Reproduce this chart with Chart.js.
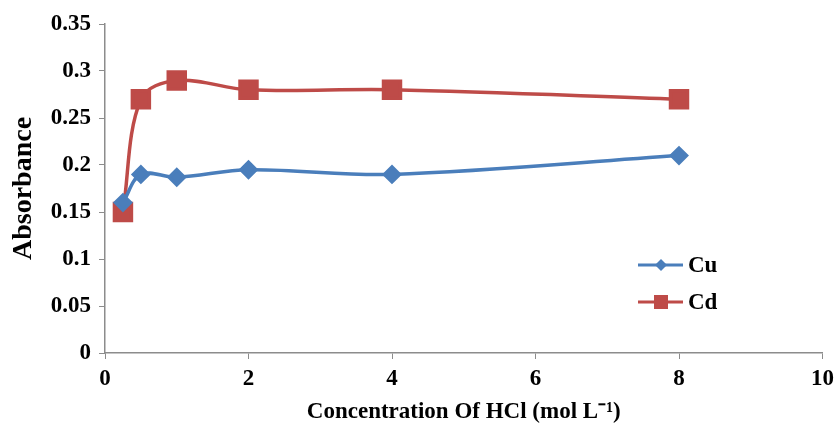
<!DOCTYPE html>
<html>
<head>
<meta charset="utf-8">
<script src="https://cdn.jsdelivr.net/npm/chart.js@4/dist/chart.umd.min.js"></script>
<style>
  html, body { margin: 0; padding: 0; background: #fff; }
  #wrap { width: 840px; height: 426px; }
</style>
</head>
<body>
<div id="wrap"><canvas id="myChart" width="840" height="426"></canvas></div>
<script>
// data
var concentrations = [0.25, 0.5, 1, 2, 4, 8];
var cuValues = [0.16, 0.19, 0.187, 0.195, 0.19, 0.21];
var cdValues = [0.15, 0.27, 0.29, 0.28, 0.28, 0.27];
var seriesNames = ['Cu', 'Cd'];
var yTickLabels = ['0', '0.05', '0.1', '0.15', '0.2', '0.25', '0.3', '0.35'];
var xTickLabels = ['0', '2', '4', '6', '8', '10'];

var cuColor = '#4A7EBB';
var cdColor = '#BE4B48';
var axisColor = '#8c8c8c';
var fontFamily = '"Liberation Serif", "Times New Roman", serif';

function toPoints(xs, ys) {
	return xs.map(function (x, i) { return { x: x, y: ys[i] }; });
}

// legend drawn inside the plot, like the original
var insideLegend = {
	id: 'insideLegend',
	afterDraw: function (chart) {
		var ctx = chart.ctx;
		var x0 = 638, y0 = 265, gap = 37;
		ctx.save();
		chart.data.datasets.forEach(function (ds, i) {
			var y = y0 + i * gap;
			ctx.strokeStyle = ds.borderColor;
			ctx.lineWidth = 3;
			ctx.beginPath();
			ctx.moveTo(x0, y);
			ctx.lineTo(x0 + 45, y);
			ctx.stroke();
			ctx.fillStyle = ds.pointBackgroundColor;
			var mx = x0 + 23;
			if (ds.pointStyle === 'rect') {
				ctx.fillRect(mx - 7, y - 7, 14, 14);
			} else {
				ctx.beginPath();
				ctx.moveTo(mx, y - 6);
				ctx.lineTo(mx + 6, y);
				ctx.lineTo(mx, y + 6);
				ctx.lineTo(mx - 6, y);
				ctx.closePath();
				ctx.fill();
			}
			ctx.fillStyle = '#000';
			ctx.font = 'bold 23px ' + fontFamily;
			ctx.textBaseline = 'middle';
			ctx.fillText(ds.label, x0 + 50, y + 1);
		});
		ctx.restore();
	}
};

var ctx = document.getElementById('myChart').getContext('2d');
var chart = new Chart(ctx, {
	type: 'scatter',
	data: {
		datasets: [{
			label: seriesNames[0],
			data: toPoints(concentrations, cuValues),
			showLine: true,
			borderColor: cuColor,
			backgroundColor: cuColor,
			pointBackgroundColor: cuColor,
			pointBorderColor: cuColor,
			borderWidth: 3.5,
			pointStyle: 'rectRot',
			pointRadius: 7.5,
			pointHoverRadius: 7.5,
			tension: 0.35
		}, {
			label: seriesNames[1],
			data: toPoints(concentrations, cdValues),
			showLine: true,
			borderColor: cdColor,
			backgroundColor: cdColor,
			pointBackgroundColor: cdColor,
			pointBorderColor: cdColor,
			borderWidth: 3.5,
			pointStyle: 'rect',
			pointRadius: 12,
			pointHoverRadius: 12,
			tension: 0.35
		}]
	},
	options: {
		responsive: false,
		animation: false,
		layout: { padding: { top: 24, right: 13, left: 0, bottom: 0 } },
		plugins: {
			legend: { display: false },
			tooltip: { enabled: false }
		},
		scales: {
			x: {
				type: 'linear',
				min: 0,
				max: 10,
				afterFit: function (scale) { scale.height = 73; },
				afterBuildTicks: function (scale) {
					scale.ticks = xTickLabels.map(function (t) { return { value: Number(t) }; });
				},
				ticks: {
					color: '#000',
					font: { family: fontFamily, size: 23, weight: 'bold' },
					padding: 6,
					maxRotation: 0,
					callback: function (v) { return String(v); }
				},
				grid: { display: true, drawOnChartArea: false, tickLength: 6, color: axisColor },
				border: { color: axisColor, width: 1.5 },
				title: {
					display: true,
					text: 'Concentration Of HCl (mol L\u207B\u00B9)',
					color: '#000',
					font: { family: fontFamily, size: 23, weight: 'bold' },
					padding: { top: 0, bottom: 0 }
				}
			},
			y: {
				min: 0,
				max: 0.35,
				afterFit: function (scale) { scale.width = 105; },
				afterBuildTicks: function (scale) {
					scale.ticks = yTickLabels.map(function (t) { return { value: Number(t) }; });
				},
				ticks: {
					color: '#000',
					font: { family: fontFamily, size: 23, weight: 'bold' },
					padding: 8,
					callback: function (v) {
						var s = yTickLabels.find(function (t) { return Math.abs(Number(t) - v) < 1e-9; });
						return s !== undefined ? s : '';
					}
				},
				grid: { display: true, drawOnChartArea: false, tickLength: 6, color: axisColor },
				border: { color: axisColor, width: 1.5 },
				title: {
					display: true,
					text: 'Absorbance',
					color: '#000',
					font: { family: fontFamily, size: 28, weight: 'bold' },
					padding: { top: 7, bottom: 0 }
				}
			}
		}
	},
	plugins: [insideLegend]
});
</script>
</body>
</html>
